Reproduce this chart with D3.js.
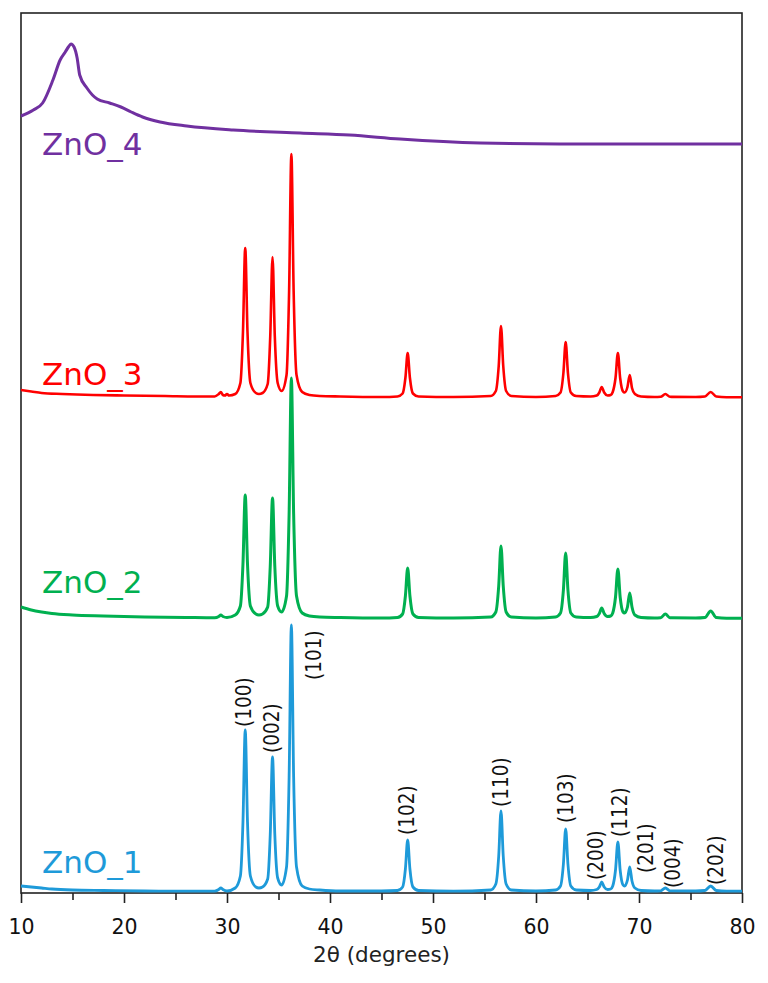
<!DOCTYPE html>
<html>
<head>
<meta charset="utf-8">
<script src="https://cdn.jsdelivr.net/npm/d3@7"></script>
<style>
  body { margin: 0; background: #fff; }
  svg { display: block; }
</style>
</head>
<body>
<svg id="chart" width="768" height="983"></svg>
<script>
// 2-theta (deg) vs intensity (a.u., relative to each pattern's own baseline)
const sampleNames = ["ZnO_1", "ZnO_2", "ZnO_3", "ZnO_4"];

const zno1 = [
    [10, 6], [11, 5], [12, 4], [13, 3], [15, 2], [18, 1.5], [22, 1], [26, 0.8], [28.8, 0.8],
    [29.2, 2.5], [29.4, 4], [29.6, 2.5], [30, 1],
    [30.8, 4], [31.3, 16], [31.55, 70], [31.77, 162], [31.99, 70], [32.27, 16], [32.8, 5], [33.1, 4],
    [33.45, 5], [33.95, 13], [34.2, 58], [34.42, 135], [34.64, 58], [34.92, 14], [35.3, 7],
    [35.78, 25], [36.03, 115], [36.25, 267], [36.47, 115], [36.75, 25], [37.3, 6], [38, 3], [39, 2], [41, 1], [45, 1],
    [46.55, 1.5], [47.05, 5], [47.32, 23], [47.54, 52], [47.76, 23], [48.05, 5], [48.6, 1.5], [52, 0.8],
    [55.6, 2], [56.1, 8], [56.38, 36], [56.6, 81], [56.82, 36], [57.1, 8], [57.6, 2], [60, 1],
    [61.9, 2], [62.38, 6], [62.66, 28], [62.88, 63], [63.1, 28], [63.38, 6], [63.9, 2], [65.3, 1.5],
    [65.9, 2.5], [66.15, 5], [66.38, 10], [66.62, 5], [66.95, 2.5], [67.25, 3],
    [67.45, 6], [67.72, 22], [67.95, 50], [68.17, 22], [68.45, 7], [68.6, 6],
    [68.88, 12], [69.1, 25], [69.32, 11], [69.6, 4], [70.2, 1.5], [71.5, 1],
    [72.1, 1.2], [72.56, 4], [73, 1.2], [75.5, 1],
    [76.4, 1.5], [76.96, 6], [77.5, 1.5], [78.5, 0.8], [80, 0.8]
];

const zno2 = [
    [10, 12], [11, 9], [12, 7], [13, 5.5], [15, 4], [18, 3], [22, 2], [26, 1.5], [28.8, 1.2],
    [29.2, 2.5], [29.4, 4], [29.6, 2.5], [30, 1.5],
    [30.8, 4], [31.3, 13], [31.55, 55], [31.77, 124], [31.99, 55], [32.27, 13], [32.8, 5], [33.1, 4],
    [33.45, 5], [33.95, 12], [34.2, 53], [34.42, 121], [34.64, 53], [34.92, 13], [35.3, 7],
    [35.78, 23], [36.03, 105], [36.25, 241], [36.47, 105], [36.75, 23], [37.3, 6], [38, 3], [39, 2], [41, 1.5], [45, 1],
    [46.55, 1.5], [47.05, 5], [47.32, 23], [47.54, 51], [47.76, 23], [48.05, 5], [48.6, 1.5], [52, 1],
    [55.6, 2], [56.1, 7], [56.38, 33], [56.6, 73], [56.82, 33], [57.1, 7], [57.6, 2], [60, 1],
    [61.9, 2], [62.38, 6], [62.66, 29], [62.88, 66], [63.1, 29], [63.38, 6], [63.9, 2], [65.3, 1.5],
    [65.9, 2.5], [66.15, 5.5], [66.38, 11], [66.62, 5.5], [66.95, 2.5], [67.25, 3],
    [67.45, 6], [67.72, 22], [67.95, 50], [68.17, 22], [68.45, 7], [68.6, 6],
    [68.88, 12], [69.1, 26], [69.32, 12], [69.6, 4], [70.2, 1.5], [71.5, 1],
    [72.1, 1.2], [72.56, 5], [73, 1.2], [75.5, 1],
    [76.4, 1.5], [76.96, 8], [77.5, 1.5], [78.5, 0.8], [80, 0.8]
];

const zno3 = [
    [10, 8], [11, 6.5], [12, 5], [14, 4], [17, 3], [20, 2.5], [24, 2], [27, 1.5], [28.8, 1.5],
    [29.2, 4], [29.4, 6], [29.6, 3], [29.8, 2.5], [30, 4], [30.2, 2.5],
    [30.8, 4], [31.3, 15], [31.55, 66], [31.77, 150], [31.99, 66], [32.27, 15], [32.8, 5], [33.1, 4],
    [33.45, 5], [33.95, 14], [34.2, 62], [34.42, 141], [34.64, 62], [34.92, 15], [35.3, 7],
    [35.78, 23], [36.03, 107], [36.25, 244], [36.47, 107], [36.75, 23], [37.3, 6], [38, 3], [39, 2], [41, 1.5], [45, 1],
    [46.55, 1.5], [47.05, 4.5], [47.32, 20], [47.54, 45], [47.76, 20], [48.05, 4.5], [48.6, 1.5], [52, 1],
    [55.6, 2], [56.1, 7], [56.38, 32], [56.6, 72], [56.82, 32], [57.1, 7], [57.6, 2], [60, 1],
    [61.9, 2], [62.38, 5.5], [62.66, 25], [62.88, 56], [63.1, 25], [63.38, 5.5], [63.9, 2], [65.3, 1.5],
    [65.9, 2.5], [66.15, 5.5], [66.38, 11], [66.62, 5.5], [66.95, 2.5], [67.25, 3],
    [67.45, 6], [67.72, 20], [67.95, 45], [68.17, 20], [68.45, 6.5], [68.6, 5.5],
    [68.88, 11], [69.1, 23], [69.32, 10], [69.6, 4], [70.2, 1.5], [71.5, 1],
    [72.1, 1.2], [72.56, 4], [73, 1.2], [75.5, 1],
    [76.4, 1.5], [76.96, 6], [77.5, 1.5], [78.5, 0.8], [80, 0.8]
];

const zno4 = [
    [10, 28], [11.2, 34], [12.1, 41], [13.1, 64], [13.8, 84], [14.3, 92], [14.6, 97], [14.85, 100],
    [15.15, 97], [15.45, 86], [15.7, 69], [16.4, 56], [17.4, 45], [18.6, 41], [19.7, 37], [20.7, 32], [21.8, 27],
    [23.5, 22], [26.1, 18], [30.6, 14], [37.1, 11], [41.9, 9], [46.8, 5], [54.6, 1], [62.3, 0], [80, 0]
];

// stacking offset of each pattern (a.u.)
const stackOffsets = [1, 274, 495, 749];

const hklLabels = ["(100)", "(002)", "(101)", "(102)", "(110)", "(103)", "(200)", "(112)", "(201)", "(004)", "(202)"];
const hklTheta = [31.77, 34.42, 36.25, 47.54, 56.6, 62.88, 66.38, 67.95, 69.1, 72.56, 76.96];

const xTicks = [10, 20, 30, 40, 50, 60, 70, 80];
const xMinorTicks = [15, 25, 35, 45, 55, 65, 75];

// ---- layout / style ----
const colors = ["#1e9ad9", "#00b050", "#ff0000", "#7030a0"];
const lineWidths = [2.8, 3, 2.6, 3];
const nameLift = [19, 26, 13, -11];   // px above the pattern baseline
const hklNudge = [[-2, 3], [-1, 4], [22, -55], [-1, 5], [0, 4], [0, 6], [-6, 2], [2, 5], [16, -6], [7, 0], [5, 1]];

const margin = {top: 13, right: 26, bottom: 90, left: 21};
const width = 768, height = 983;
const labelFont = "DejaVu Sans, Verdana, sans-serif";

const svg = d3.select("#chart");

const x = d3.scaleLinear().domain([10, 80]).range([margin.left, width - margin.right]);
const y = d3.scaleLinear().domain([0, 880]).range([height - margin.bottom, margin.top]);

const patterns = [zno1, zno2, zno3, zno4];

// frame
svg.append("rect")
    .attr("x", x(10)).attr("y", margin.top)
    .attr("width", x(80) - x(10)).attr("height", height - margin.bottom - margin.top)
    .attr("fill", "none").attr("stroke", "#222").attr("stroke-width", 1.6);

// patterns
patterns.forEach((data, i) => {
    let line = d3.line()
        .x(d => x(d[0]))
        .y(d => y(d[1] + stackOffsets[i]))
        .curve(d3.curveMonotoneX);

    svg.append("path")
        .datum(data)
        .attr("fill", "none")
        .attr("stroke", colors[i])
        .attr("stroke-width", lineWidths[i])
        .attr("stroke-linejoin", "round")
        .attr("d", line);

    svg.append("text")
        .attr("x", 42)
        .attr("y", y(stackOffsets[i]) - nameLift[i])
        .attr("fill", colors[i])
        .attr("font-family", labelFont)
        .attr("font-size", 31)
        .text(sampleNames[i]);
});

// hkl labels over the ZnO_1 peaks
hklLabels.forEach((lab, i) => {
    let apex = zno1.find(d => d[0] === hklTheta[i]);
    let px = x(hklTheta[i]) + hklNudge[i][0];
    let py = y(apex[1] + stackOffsets[0]) - hklNudge[i][1];
    svg.append("text")
        .attr("transform", `translate(${px},${py}) rotate(-90)`)
        .attr("dy", "0.36em")
        .attr("font-family", "DejaVu Sans Condensed, DejaVu Sans, sans-serif")
        .attr("font-stretch", "condensed")
        .attr("font-size", 20.5)
        .attr("fill", "#111")
        .text(lab);
});

// x axis
let axisY = height - margin.bottom;
let gMinor = svg.append("g")
    .attr("transform", `translate(0,${axisY})`)
    .call(d3.axisBottom(x).tickValues(xMinorTicks).tickSize(7).tickFormat(""));
gMinor.select(".domain").remove();

let gMajor = svg.append("g")
    .attr("transform", `translate(0,${axisY})`)
    .call(d3.axisBottom(x).tickValues(xTicks).tickSize(10).tickPadding(16).tickFormat(d3.format("d")));
gMajor.select(".domain").remove();
svg.selectAll(".tick line").attr("stroke", "#222").attr("stroke-width", 1.6);
gMajor.selectAll(".tick text")
    .attr("font-family", labelFont)
    .attr("font-size", 20.5)
    .attr("fill", "#111");

svg.append("text")
    .attr("x", (x(10) + x(80)) / 2)
    .attr("y", 962)
    .attr("text-anchor", "middle")
    .attr("font-family", labelFont)
    .attr("font-size", 21.5)
    .attr("fill", "#222")
    .text("2θ (degrees)");
</script>
</body>
</html>
